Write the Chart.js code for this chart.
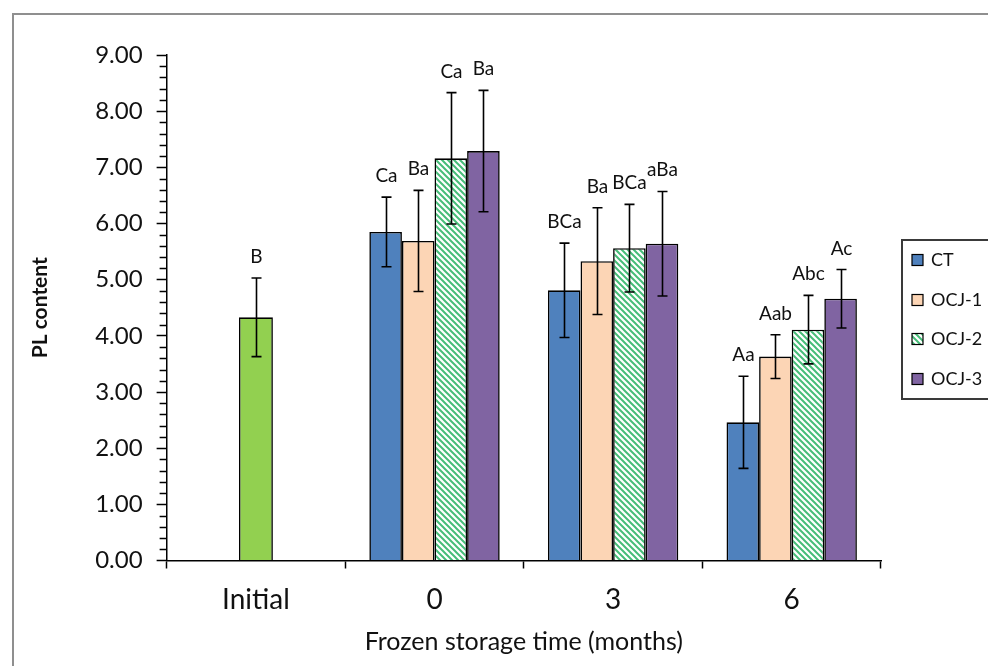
<!DOCTYPE html>
<html>
<head>
<meta charset="utf-8">
<script src="https://cdn.jsdelivr.net/npm/chart.js@4.4.0/dist/chart.umd.min.js"></script>
<style>
  html, body { margin: 0; padding: 0; background: #fff; }
  #wrap { width: 988px; height: 666px; position: relative; }
</style>
</head>
<body>
<div id="wrap"><canvas id="plChart"></canvas></div>
<script>
const categories = ['Initial', '0', '3', '6'];
const seriesNames = ['CT', 'OCJ-1', 'OCJ-2', 'OCJ-3'];
const yTickValues = [0, 1, 2, 3, 4, 5, 6, 7, 8, 9];

const initialValues = [4.33, null, null, null];
const initialErr = [0.70, null, null, null];
const initialLetters = ['B', '', '', ''];

const ctValues = [null, 5.85, 4.81, 2.46];
const ctErr = [null, 0.62, 0.84, 0.82];
const ctLetters = ['', 'Ca', 'BCa', 'Aa'];

const ocj1Values = [null, 5.69, 5.33, 3.63];
const ocj1Err = [null, 0.90, 0.95, 0.39];
const ocj1Letters = ['', 'Ba', 'Ba', 'Aab'];

const ocj2Values = [null, 7.16, 5.56, 4.11];
const ocj2Err = [null, 1.17, 0.78, 0.61];
const ocj2Letters = ['', 'Ca', 'BCa', 'Abc'];

const ocj3Values = [null, 7.29, 5.64, 4.66];
const ocj3Err = [null, 1.08, 0.93, 0.52];
const ocj3Letters = ['', 'Ba', 'aBa', 'Ac'];

const FONT = 'Lato, "Noto Sans", sans-serif';

function makeHatch() {
  const c = document.createElement('canvas');
  c.width = 6; c.height = 6;
  const g = c.getContext('2d');
  g.fillStyle = '#fff';
  g.fillRect(0, 0, 6, 6);
  g.strokeStyle = '#46bd78';
  g.lineWidth = 2;
  g.beginPath();
  g.moveTo(0, 0); g.lineTo(6, 6);
  g.moveTo(-3, 3); g.lineTo(3, 9);
  g.moveTo(3, -3); g.lineTo(9, 3);
  g.stroke();
  return g.createPattern(c, 'repeat');
}
const hatch = makeHatch();

// outer frame like the exported figure
const framePlugin = {
  id: 'frame',
  beforeDraw(chart) {
    const ctx = chart.ctx;
    ctx.save();
    ctx.fillStyle = '#fff';
    ctx.fillRect(0, 0, chart.width, chart.height);
    ctx.strokeStyle = '#8f8f8f';
    ctx.lineWidth = 2;
    ctx.strokeRect(13, 14, chart.width + 20, chart.height + 20);
    ctx.restore();
  }
};

// minor ticks on y axis
const minorTicks = {
  id: 'minorTicks',
  afterDraw(chart) {
    const y = chart.scales.y;
    const ctx = chart.ctx;
    const x0 = chart.chartArea.left;
    ctx.save();
    ctx.strokeStyle = '#000';
    ctx.lineWidth = 1.5;
    ctx.beginPath();
    for (let i = 0; i < 45; i++) {
      if (i % 5 === 0) continue;
      const py = Math.round(y.getPixelForValue(i * 0.2)) + 0.5;
      ctx.moveTo(x0 - 7, py);
      ctx.lineTo(x0, py);
    }
    ctx.stroke();
    ctx.restore();
  }
};

// error bars + significance letters
const errorBars = {
  id: 'errorBars',
  afterDatasetsDraw(chart) {
    const ctx = chart.ctx;
    const y = chart.scales.y;
    ctx.save();
    chart.data.datasets.forEach((ds, i) => {
      const meta = chart.getDatasetMeta(i);
      meta.data.forEach((bar, j) => {
        const v = ds.data[j];
        const e = ds.errors[j];
        if (v == null || e == null) return;
        const top = y.getPixelForValue(v + e);
        const bot = y.getPixelForValue(v - e);
        const x = Math.round(bar.x) + 0.5;
        ctx.strokeStyle = '#000';
        ctx.lineWidth = 1.6;
        ctx.beginPath();
        ctx.moveTo(x, top); ctx.lineTo(x, bot);
        ctx.moveTo(x - 5, top); ctx.lineTo(x + 5, top);
        ctx.moveTo(x - 5, bot); ctx.lineTo(x + 5, bot);
        ctx.stroke();
        ctx.fillStyle = '#111';
        ctx.font = '19px ' + FONT;
        ctx.textAlign = 'center';
        ctx.textBaseline = 'alphabetic';
        ctx.fillText(ds.letters[j], x, top - 15);
      });
    });
    ctx.restore();
  }
};

// boxed legend on the right
const boxLegend = {
  id: 'boxLegend',
  afterDraw(chart) {
    const ctx = chart.ctx;
    ctx.save();
    ctx.strokeStyle = '#3a3a3a';
    ctx.lineWidth = 2;
    ctx.strokeRect(902, 240, 120, 159);
    ctx.font = '18px ' + FONT;
    ctx.textBaseline = 'middle';
    ctx.textAlign = 'left';
    const rows = [260, 300, 339, 379];
    seriesNames.forEach((name, k) => {
      const ds = chart.data.datasets[k + 1];
      const yy = rows[k];
      ctx.fillStyle = ds.backgroundColor;
      ctx.fillRect(912, yy - 5.5, 11, 11);
      ctx.strokeStyle = '#000';
      ctx.lineWidth = 1.2;
      ctx.strokeRect(912, yy - 5.5, 11, 11);
      ctx.fillStyle = '#111';
      ctx.fillText(name, 931, yy);
    });
    ctx.restore();
  }
};

const barStyle = { borderColor: '#000', borderWidth: 1.6, categoryPercentage: 0.73, barPercentage: 1 };

new Chart(document.getElementById('plChart').getContext('2d'), {
  type: 'bar',
  data: {
    labels: categories,
    datasets: [
      { label: 'Initial', data: initialValues, errors: initialErr, letters: initialLetters,
        backgroundColor: '#92d050', borderColor: '#000', borderWidth: 1.6,
        grouped: false, categoryPercentage: 1, barPercentage: 0.19 },
      Object.assign({ label: seriesNames[0], data: ctValues, errors: ctErr, letters: ctLetters, backgroundColor: '#4f81bd' }, barStyle),
      Object.assign({ label: seriesNames[1], data: ocj1Values, errors: ocj1Err, letters: ocj1Letters, backgroundColor: '#fcd5b5' }, barStyle),
      Object.assign({ label: seriesNames[2], data: ocj2Values, errors: ocj2Err, letters: ocj2Letters, backgroundColor: hatch }, barStyle),
      Object.assign({ label: seriesNames[3], data: ocj3Values, errors: ocj3Err, letters: ocj3Letters, backgroundColor: '#8064a2' }, barStyle)
    ]
  },
  options: {
    responsive: true,
    maintainAspectRatio: false,
    animation: false,
    layout: { padding: { left: 28, top: 55, right: 107, bottom: 13 } },
    plugins: {
      legend: { display: false },
      tooltip: { enabled: false }
    },
    scales: {
      x: {
        grid: { offset: true, drawOnChartArea: false, tickLength: 8, tickColor: '#000', tickWidth: 1.5 },
        border: { color: '#000', width: 1.5 },
        ticks: { color: '#111', font: { family: FONT, size: 28, lineHeight: 1 }, padding: 17 },
        title: { display: true, text: 'Frozen storage time (months)', color: '#111',
                 font: { family: FONT, size: 25, lineHeight: 0.9 }, padding: { top: 0, bottom: 0 } }
      },
      y: {
        min: 0,
        max: 9,
        afterBuildTicks: s => { s.ticks = yTickValues.map(v => ({ value: v })); },
        grid: { drawOnChartArea: false, tickLength: 10, tickColor: '#000', tickWidth: 1.5 },
        border: { color: '#000', width: 1.5 },
        ticks: { color: '#111', font: { family: FONT, size: 24 }, padding: 14,
                 callback: v => Number(v).toFixed(2) },
        title: { display: true, text: 'PL content', color: '#111',
                 font: { family: FONT, size: 21, weight: 'bold' }, padding: { top: 0, bottom: 28 } }
      }
    }
  },
  plugins: [framePlugin, minorTicks, errorBars, boxLegend]
});
</script>
</body>
</html>
